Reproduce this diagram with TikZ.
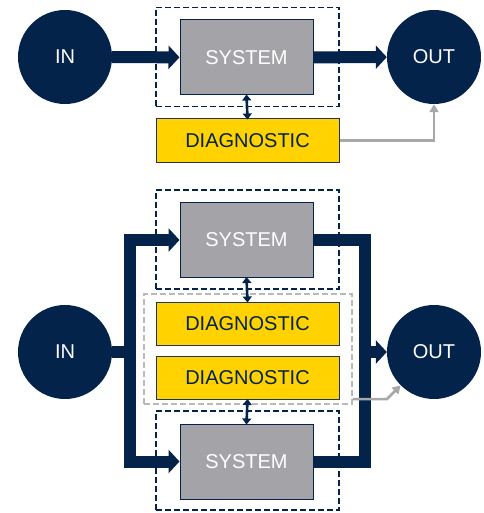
\documentclass[tikz,border=0pt]{standalone}
\usepackage{fontspec}
\setmainfont{Liberation Sans}
\usetikzlibrary{arrows.meta}
\definecolor{navy}{RGB}{3,35,75}
\definecolor{sysgray}{RGB}{164,164,168}
\definecolor{diagyellow}{RGB}{255,210,0}
\definecolor{fbgray}{RGB}{168,168,170}
\definecolor{grpgray}{RGB}{185,185,188}
\begin{document}
\begin{tikzpicture}[x=1pt,y=-1pt,
	    font=\fontsize{20}{23}\selectfont,
	    inout/.style={circle, fill=navy, text=white, minimum size=94pt, inner sep=0pt},
	    sysbox/.style={draw=navy, line width=1pt, fill=sysgray, text=white, minimum width=133pt, minimum height=75pt, inner sep=0pt},
	    diagbox/.style={draw=navy!80!gray, line width=1pt, fill=diagyellow, text=navy, minimum width=183pt, minimum height=43pt, inner sep=0pt},
	    frame/.style={draw=navy, dashed, dash pattern=on 6pt off 3pt, line width=1.4pt, minimum width=183pt, minimum height=99pt, inner sep=0pt},
	    grpframe/.style={draw=grpgray, dashed, dash pattern=on 6pt off 3pt, line width=1.4pt, minimum width=208pt, minimum height=110pt, inner sep=0pt},
	    bus/.style={draw=navy, line width=12pt, line join=miter},
	    busarrow/.style={bus, -{Triangle[length=11pt,width=23pt]}},
	    link/.style={draw=navy, line width=2.6pt, {Triangle[length=6pt,width=9pt]}-{Triangle[length=6pt,width=9pt]}, shorten <=-1pt, shorten >=-1pt},
	    fb/.style={draw=fbgray, line width=2.5pt, -{Triangle[length=8pt,width=9pt]}}]
	    \useasboundingbox (0,0) rectangle (483,513);
	    % upper diagram
	    \node[frame] (f1) at (247.5,57) {};
	    \node[inout] (in1) at (65,57) {IN};
	    \node[inout] (out1) at (434,57) {OUT};
	    \node[sysbox] (s1) at (246.5,57.5) {SYSTEM};
	    \node[diagbox] (d1) at (247.5,140.5) {DIAGNOSTIC};
	    \draw[busarrow] (in1) -- (s1);
	    \draw[busarrow] (s1) -- (out1);
	    \draw[link] (s1.south) -- (d1.north);
	    \draw[fb] (d1.east) -| (out1.south);
	    % lower diagram
	    \node[frame] (f2) at (247.5,239.5) {};
	    \node[frame] (f3) at (247.5,460.5) {};
	    \node[grpframe] (g1) at (248,349) {};
	    \node[inout] (in2) at (65,352) {IN};
	    \node[inout] (out2) at (434,352) {OUT};
	    \node[sysbox] (s2) at (246.5,240) {SYSTEM};
	    \node[sysbox] (s3) at (246.5,461.5) {SYSTEM};
	    \node[diagbox] (d2) at (247.5,323.5) {DIAGNOSTIC};
	    \node[diagbox] (d3) at (247.5,378) {DIAGNOSTIC};
	    \coordinate (lb) at (130,352);
	    \coordinate (rb) at (365,352);
	    \coordinate (kb) at (387,399);
	    \draw[bus] (in2.east) -- (lb);
	    \draw[busarrow] (lb) |- (s2.west);
	    \draw[busarrow] (lb) |- (s3.west);
	    \draw[bus] (s2.east) -| (rb);
	    \draw[bus] (s3.east) -| (rb);
	    \draw[busarrow] (rb) -- (out2);
	    \draw[link] (s2.south) -- (d2.north);
	    \draw[link] (d3.south) -- (s3.north);
	    \draw[fb] (g1.east |- kb) -- (kb) -- (out2.south west);
\end{tikzpicture}
\end{document}
